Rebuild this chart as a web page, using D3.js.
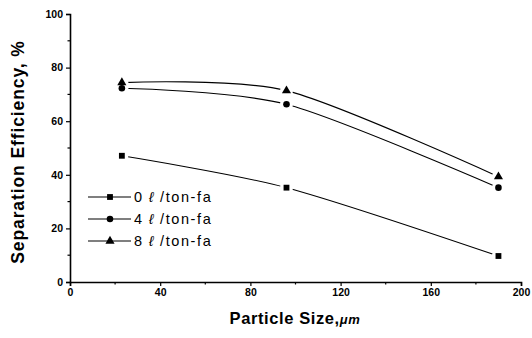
<!DOCTYPE html>
<html>
<head>
<meta charset="utf-8">
<script src="https://cdn.jsdelivr.net/npm/d3@7"></script>
<style>
  body { margin: 0; background: #fff; }
  svg { display: block; }
  .tick text { font-family: 'Liberation Sans', Arial, sans-serif; font-weight: bold; font-size: 10.5px; }
</style>
</head>
<body>
<script>
let particleSize = [23, 96, 190]
let eff0 = [47.1, 35.2, 9.7]
let eff4 = [72.3, 66.3, 35.2]
let eff8 = [74.4, 71.4, 39.3]
let seriesNumbers = ['0', '4', '8']
let unitLabel = '/ton-fa'
let seriesSymbols = ['square', 'circle', 'triangle']
let xTicks = [0, 40, 80, 120, 160, 200]
let yTicks = [0, 20, 40, 60, 80, 100]

let W = 532, H = 338
let plot = {left: 70, right: 521, top: 14, bottom: 282}
let fontFamily = "'Liberation Sans', Arial, sans-serif"

let svg = d3.select('body').append('svg')
  .attr('width', W).attr('height', H)

let x = d3.scaleLinear().domain([0, 200]).range([plot.left, plot.right])
let y = d3.scaleLinear().domain([0, 100]).range([plot.bottom, plot.top])

// minor ticks
let minorX = d3.range(20, 200, 40)
let minorY = d3.range(10, 100, 20)

let xAxis = svg.append('g')
  .attr('transform', `translate(0,${plot.bottom})`)
  .call(d3.axisBottom(x).tickValues(xTicks).tickSize(4).tickPadding(3).tickFormat(d3.format('d')))
let yAxis = svg.append('g')
  .attr('transform', `translate(${plot.left},0)`)
  .call(d3.axisLeft(y).tickValues(yTicks).tickSize(4).tickPadding(3).tickFormat(d3.format('d')))

for (let ax of [xAxis, yAxis]) {
  ax.select('.domain').attr('stroke-width', 1.6)
  ax.selectAll('.tick line').attr('stroke-width', 1.2)
}

svg.append('g').selectAll('line').data(minorX).enter().append('line')
  .attr('x1', d => x(d)).attr('x2', d => x(d))
  .attr('y1', plot.bottom).attr('y2', plot.bottom + 2.5)
  .attr('stroke', '#000').attr('stroke-width', 1.2)
svg.append('g').selectAll('line').data(minorY).enter().append('line')
  .attr('x1', plot.left - 2.5).attr('x2', plot.left)
  .attr('y1', d => y(d)).attr('y2', d => y(d))
  .attr('stroke', '#000').attr('stroke-width', 1.2)

// axis titles
svg.append('text')
  .attr('x', 295).attr('y', 324)
  .attr('text-anchor', 'middle')
  .style('font-family', fontFamily)
  .style('font-weight', 'bold').style('font-size', '16.5px')
  .style('letter-spacing', '0.6px')
  .html('Particle Size,<tspan font-style="italic" font-size="13px">\u03bcm</tspan>')

svg.append('text')
  .attr('transform', 'translate(24,152) rotate(-90)')
  .attr('text-anchor', 'middle')
  .style('font-family', fontFamily)
  .style('font-weight', 'bold').style('font-size', '17.5px')
  .style('letter-spacing', '0.9px')
  .text('Separation Efficiency, %')

// series
let series = [eff0, eff4, eff8].map((vals, i) => ({
  num: seriesNumbers[i],
  symbol: seriesSymbols[i],
  points: particleSize.map((s, j) => ({x: s, y: vals[j]}))
}))

let symbolType = {
  square: d3.symbolSquare,
  circle: d3.symbolCircle,
  triangle: d3.symbolTriangle
}
let symbolSize = {square: 34, circle: 34, triangle: 36}

let line = d3.line()
  .x(d => x(d.x)).y(d => y(d.y))
  .curve(d3.curveCardinal.tension(0.2))

let chart = svg.append('g')
for (let s of series) {
  chart.append('path')
    .datum(s.points)
    .attr('d', line)
    .attr('fill', 'none')
    .attr('stroke', '#000')
    .attr('stroke-width', 1.1)
}
// white halo at each marker to give the gap between curve and symbol
for (let s of series) {
  chart.append('g').selectAll('circle').data(s.points).enter()
    .append('circle')
    .attr('cx', d => x(d.x)).attr('cy', d => y(d.y))
    .attr('r', 6.5).attr('fill', '#fff')
}
for (let s of series) {
  chart.append('g').selectAll('path').data(s.points).enter()
    .append('path')
    .attr('transform', d => `translate(${x(d.x)},${y(d.y)})`)
    .attr('d', d3.symbol().type(symbolType[s.symbol]).size(symbolSize[s.symbol]))
    .attr('fill', '#000')
}

// legend
let legend = svg.append('g')
series.forEach((s, i) => {
  let ly = 197 + i * 22
  legend.append('line')
    .attr('x1', 88).attr('x2', 131).attr('y1', ly).attr('y2', ly)
    .attr('stroke', '#000').attr('stroke-width', 1.1)
  legend.append('path')
    .attr('transform', `translate(110,${ly})`)
    .attr('d', d3.symbol().type(symbolType[s.symbol]).size(symbolSize[s.symbol]))
    .attr('fill', '#000')
  let t = legend.append('text')
    .attr('y', ly + 5)
    .style('font-family', fontFamily)
    .style('font-size', '14.5px')
  t.append('tspan').attr('x', 134).text(s.num)
  t.append('tspan').attr('x', 149).style('font-style', 'italic').text('\u2113')
  t.append('tspan').attr('x', 160).style('letter-spacing', '1.6px').text(unitLabel)
})
</script>
</body>
</html>
